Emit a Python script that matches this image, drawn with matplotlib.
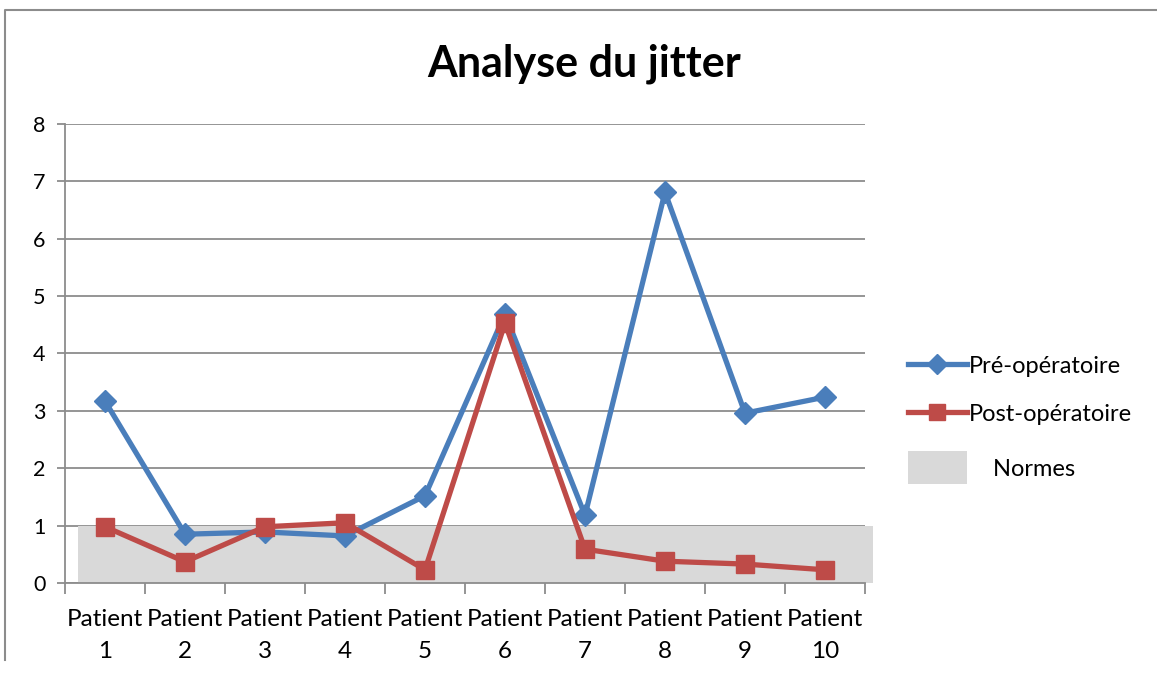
import numpy as np
import matplotlib
matplotlib.use('Agg')
import matplotlib.pyplot as plt
from matplotlib.patches import Rectangle, Patch
from matplotlib.lines import Line2D
from matplotlib.legend_handler import HandlerPatch

# data
patients = [f'Patient\n{i}' for i in range(1, 11)]
pre_op = [3.17, 0.85, 0.89, 0.82, 1.52, 4.69, 1.18, 6.81, 2.96, 3.24]
post_op = [0.98, 0.37, 0.98, 1.05, 0.23, 4.53, 0.59, 0.38, 0.33, 0.23]
norm_low, norm_high = 0, 1

plt.rcParams['font.family'] = ['Lato', 'DejaVu Sans']

fig = plt.figure(figsize=(11.57, 6.75), dpi=100)
ax = fig.add_axes([0.0562, 0.1363, 0.6914, 0.680])

x = np.arange(len(patients))
ax.add_patch(Rectangle((-0.34, norm_low), 9.94, norm_high - norm_low,
                       facecolor='#D9D9D9', edgecolor='none', zorder=1, clip_on=False))
ax.plot(x, pre_op, color='#4A7EBB', lw=3.8, marker='D', ms=11, zorder=3,
        solid_joinstyle='round')
ax.plot(x, post_op, color='#BE4B48', lw=3.8, marker='s', ms=13, zorder=4,
        solid_joinstyle='round')

ax.set_xlim(-0.5, 9.5)
ax.set_ylim(0, 8)
ax.set_yticks(range(0, 9))
ax.yaxis.grid(True, color='#8C8C8C', lw=1.3)
ax.set_axisbelow(True)
ax.set_xticks(np.arange(-0.5, 10, 1))
ax.set_xticklabels([])
ax.set_xticks(x, minor=True)
ax.set_xticklabels(patients, minor=True, fontsize=17.5, linespacing=1.6)
ax.tick_params(axis='x', which='minor', length=0, pad=19)
ax.tick_params(axis='x', which='major', length=8, color='#8C8C8C', width=1.3)
ax.tick_params(axis='y', length=6, color='#8C8C8C', width=1.3, labelsize=15.5, pad=8)
for s in ['top', 'right']:
    ax.spines[s].set_visible(False)
for s in ['left', 'bottom']:
    ax.spines[s].set_color('#8C8C8C')
    ax.spines[s].set_linewidth(1.3)

fig.text(0.505, 0.905, 'Analyse du jitter', ha='center', va='center',
         fontsize=31, fontweight='bold')


def tall_patch(legend, orig_handle, xdescent, ydescent, width, height, fontsize):
    return Rectangle((-xdescent, -ydescent - 0.5 * height), width, height * 2.0)


line_handles = [Line2D([], [], color='#4A7EBB', lw=3.8, marker='D', ms=10),
                Line2D([], [], color='#BE4B48', lw=3.8, marker='s', ms=12)]
fig.legend(line_handles, ['Pré-opératoire', 'Post-opératoire'],
           loc='center left', bbox_to_anchor=(0.766, 0.422), frameon=False,
           fontsize=17, handlelength=2.5, handletextpad=0.1, labelspacing=1.15)
fig.legend([Patch(facecolor='#D9D9D9', edgecolor='none')], ['    Normes'],
           loc='center left', bbox_to_anchor=(0.766, 0.305), frameon=False,
           fontsize=17, handlelength=2.5, handletextpad=0.1,
           handler_map={Patch: HandlerPatch(patch_func=tall_patch)})

# outer chart border (partially visible)
fig.add_artist(Line2D([0.0043, 0.0043, 1.0], [0.022, 0.985, 0.985],
                      transform=fig.transFigure, color='#8C8C8C', lw=1.5))

fig.savefig('out.png', dpi=100)
